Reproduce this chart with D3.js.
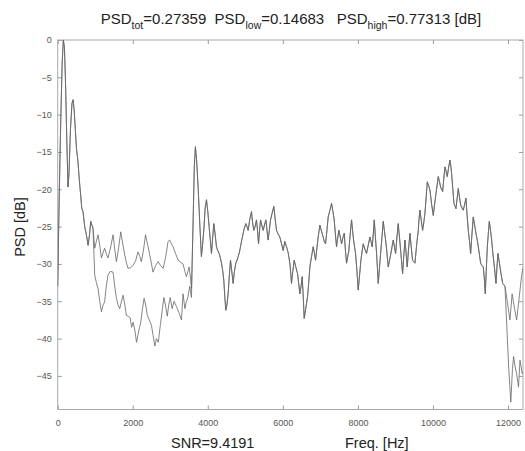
<!DOCTYPE html>
<html>
<head>
<meta charset="utf-8">
<script src="https://cdn.jsdelivr.net/npm/d3@7"></script>
<style>
    body { margin: 0; background: #fff; }
    svg { display: block; font-family: Arial, "Liberation Sans", sans-serif; }
    .tick-label { font-size: 9px; fill: #555; }
    .label { font-size: 14.5px; fill: #222; }
    .title { font-size: 15px; fill: #222; }
    .psd { fill: none; stroke: #666; stroke-width: 1; stroke-opacity: 0.8; stroke-linejoin: round; }
</style>
</head>
<body>
<div id="chart"></div>
<script>

// DATA
// ----------------------------------------------------------------

// 0 - 940 Hz, both spectra on top of each other
var freqHead = [0, 30, 60, 90, 120, 150, 180, 210, 245, 275, 300, 340, 380, 410, 440, 470, 500, 540, 580, 613, 640, 675, 720, 765, 810, 850, 880, 910, 940];
var psdHead = [-33, -24, -16, -9, -3, 0, -1, -6, -14, -19.7, -18, -12, -8.5, -8, -9.5, -12, -14.5, -16.3, -19, -20.8, -22.5, -23, -25, -26.1, -27.5, -26, -24.3, -24.8, -25.2];

// 940 - 3600 Hz, upper spectrum
var freqLowA = [987, 1030, 1075, 1120, 1165, 1210, 1250, 1300, 1340, 1400, 1475, 1520, 1565, 1620, 1680, 1730, 1787, 1830, 1875, 1940, 2010, 2080, 2140, 2190, 2230, 2290, 2340, 2400, 2453, 2500, 2540, 2610, 2675, 2740, 2810, 2880, 2940, 2987, 3030, 3075, 3140, 3210, 3280, 3340, 3390, 3430, 3470, 3500, 3530, 3565];
var psdLowA = [-27.9, -27, -26.1, -27.5, -29.2, -28.5, -27.9, -28.7, -29.2, -28, -26.1, -28, -29.7, -28, -25.7, -27.2, -28.8, -29.8, -30.6, -30.5, -30.2, -29.5, -28.4, -29, -29.7, -28, -26.1, -27.5, -28.8, -30, -31.1, -30.2, -29.7, -30.2, -30.6, -29, -27, -26.8, -27.3, -27.7, -28.6, -29.5, -29.8, -30, -31, -31.7, -31, -30.4, -31.5, -33.3];

// 940 - 3600 Hz, lower spectrum
var freqLowB = [987, 1030, 1075, 1120, 1165, 1210, 1250, 1295, 1340, 1400, 1475, 1520, 1565, 1610, 1653, 1700, 1742, 1790, 1830, 1880, 1930, 1970, 2010, 2060, 2100, 2140, 2180, 2213, 2260, 2302, 2345, 2390, 2440, 2497, 2540, 2590, 2630, 2680, 2740, 2790, 2830, 2870, 2920, 2960, 3000, 3050, 3100, 3165, 3230, 3298, 3340, 3390, 3430, 3470, 3520, 3565];
var psdLowB = [-31.5, -32.5, -33.3, -35, -36.4, -35.5, -35.1, -33, -31.5, -31, -31.1, -33, -34.6, -35.5, -36, -35, -34.2, -35.5, -36.9, -37, -37.2, -38.5, -37.8, -39, -40.5, -39.5, -38.5, -37.8, -36, -34.6, -35.5, -36.9, -37.5, -38.2, -39.5, -41, -40, -40.5, -38, -36, -34.5, -35.5, -37, -35.5, -34.5, -36, -35, -35.7, -36.5, -37.5, -34, -36, -35, -34.5, -33, -34.5];

// 3600 - 11920 Hz, both spectra on top of each other
var freqMid = [3610, 3640, 3670, 3700, 3742, 3790, 3830, 3860, 3893, 3930, 3965, 4000, 4035, 4070, 4098, 4130, 4160, 4195, 4231, 4265, 4302, 4335, 4365, 4400, 4427, 4455, 4480, 4510, 4542, 4575, 4605, 4640, 4675, 4710, 4747, 4780, 4810, 4840, 4871, 4905, 4942, 4975, 5013, 5045, 5075, 5120, 5165, 5195, 5227, 5260, 5298, 5325, 5352, 5380, 5405, 5440, 5475, 5510, 5547, 5578, 5608, 5640, 5672, 5715, 5760, 5795, 5832, 5875, 5920, 5965, 6008, 6053, 6098, 6142, 6190, 6231, 6265, 6302, 6350, 6392, 6420, 6453, 6485, 6516, 6545, 6569, 6610, 6658, 6690, 6720, 6765, 6809, 6840, 6872, 6905, 6942, 6987, 7030, 7075, 7105, 7139, 7175, 7209, 7255, 7298, 7335, 7369, 7400, 7431, 7462, 7493, 7530, 7565, 7600, 7636, 7665, 7698, 7730, 7760, 7795, 7831, 7858, 7885, 7912, 7938, 7975, 8009, 8045, 8080, 8110, 8142, 8185, 8231, 8275, 8320, 8350, 8382, 8410, 8436, 8468, 8498, 8520, 8542, 8575, 8605, 8640, 8675, 8705, 8738, 8775, 8809, 8845, 8880, 8910, 8942, 8975, 9005, 9040, 9075, 9110, 9147, 9191, 9222, 9253, 9285, 9315, 9350, 9387, 9420, 9458, 9490, 9520, 9565, 9609, 9630, 9653, 9690, 9725, 9755, 9787, 9820, 9849, 9885, 9920, 9965, 10009, 10045, 10080, 10110, 10142, 10175, 10205, 10230, 10258, 10290, 10320, 10350, 10382, 10420, 10453, 10475, 10498, 10530, 10560, 10590, 10613, 10645, 10675, 10705, 10738, 10775, 10809, 10845, 10880, 10910, 10942, 10975, 11005, 11040, 11075, 11110, 11147, 11180, 11209, 11240, 11271, 11305, 11342, 11370, 11395, 11420, 11449, 11475, 11502, 11535, 11565, 11595, 11627, 11655, 11680, 11705, 11733, 11760, 11787, 11820, 11858, 11890, 11920];
var psdMid = [-24, -17, -14.3, -16, -19.7, -25, -29, -27.5, -25.5, -22.5, -21.4, -23, -25, -27, -28.6, -26.5, -24.6, -26, -27.7, -28.2, -28.6, -29.2, -29.9, -31, -32.2, -34.5, -36.2, -35.5, -34, -31.5, -29.5, -31, -32.6, -31, -29.9, -29.5, -29, -28.5, -27.7, -26.8, -25.9, -25.2, -24.6, -25, -25.5, -24, -23, -24.5, -25.5, -25, -24.1, -25.5, -27.3, -25.5, -24.1, -24.8, -25.5, -24.8, -24.1, -25.5, -26.8, -25.5, -24.1, -23.2, -22.3, -24, -25.5, -26, -26.4, -27.3, -28.2, -27, -27.7, -28.5, -30, -32.6, -31, -29.5, -30.5, -31.3, -32.5, -34, -33, -31.7, -34.5, -37.3, -36, -34.4, -32.5, -30.4, -29, -27.7, -28.5, -29.5, -28, -26.4, -24.8, -25.6, -26.4, -27, -27.3, -25.5, -23.7, -22.8, -21.9, -23, -24.1, -26, -27.7, -26.5, -25.5, -26.4, -27.3, -26.5, -25.9, -28, -29.9, -29, -28.2, -26, -24.1, -25.5, -26.8, -27.7, -28.6, -31, -33.5, -31.5, -29.5, -28.4, -27.3, -28, -28.6, -27.5, -26.4, -27, -27.7, -26, -24.1, -26.5, -28.6, -30.5, -32.6, -30.5, -28.6, -26.5, -24.3, -25.5, -26.8, -28.5, -30.4, -29.5, -28.6, -27.7, -26.8, -27.7, -28.6, -26.5, -24.6, -26.5, -28.6, -31.3, -29, -26.8, -28.5, -30.4, -28, -25.9, -27.7, -29.5, -29.7, -29.9, -27.5, -25.5, -24, -22.8, -24.2, -25.5, -24.5, -23.2, -21, -19, -19.5, -20.1, -22, -23.5, -22, -20.6, -19.5, -18.3, -19, -19.7, -20, -20.3, -18.5, -17, -17.6, -18.3, -17, -16.1, -16.8, -17.9, -20, -21.9, -22.3, -22.6, -21.2, -19.9, -21, -22.1, -22.5, -22.8, -22, -21.2, -23.5, -25.5, -27, -28.6, -26, -23.7, -24.8, -25.9, -26.8, -27.7, -28.8, -29.9, -30.2, -30.4, -32, -34, -31, -27.7, -26, -24.3, -25.5, -26.8, -28.5, -29.9, -31.3, -32.6, -30.5, -28.6, -29.5, -30.4, -31.5, -32.6, -32.8, -33];

// above 11920 Hz the spectra split again
var freqTailA = [11965, 12020, 12075, 12120, 12150, 12190, 12230, 12280, 12320, 12380, 12400];
var psdTailA = [-38, -44, -48.5, -44, -42.4, -43.8, -44.7, -46.5, -42.9, -44.7, -44.5];
var freqTailB = [11965, 12053, 12110, 12165, 12230, 12290, 12360, 12400];
var psdTailB = [-34.5, -37.5, -34, -35.7, -37.5, -34.9, -31.7, -30.5];

var xTicks = [0, 2000, 4000, 6000, 8000, 10000, 12000];
var yTicks = [0, -5, -10, -15, -20, -25, -30, -35, -40, -45];

var psdTot = '0.27359', psdLow = '0.14683', psdHigh = '0.77313', snr = '9.4191';


// LAYOUT
// ----------------------------------------------------------------

var _width = 525,
    _height = 451,
    _left = 57.7,
    _right = 523,
    _top = 40,
    _bottom = 409.5,
    _tickLen = 4;

var x = d3.scaleLinear().domain([0, 12400]).range([_left, _right]);
var y = d3.scaleLinear().domain([-49.5, 0]).range([_bottom, _top]);

var svg = d3.select('#chart').append('svg')
    .attr('width', _width)
    .attr('height', _height);

svg.append('defs').append('clipPath').attr('id', 'plot-clip')
    .append('rect')
    .attr('x', _left).attr('y', _top - 1)
    .attr('width', _right - _left).attr('height', _bottom - _top + 2);


// AXES (matlab style box, ticks pointing in)
// ----------------------------------------------------------------

var styleAxis = function (g) {
    g.select('.domain').remove();
    g.selectAll('.tick line').attr('stroke', '#999');
    g.selectAll('.tick text').attr('class', 'tick-label').attr('fill', '#555');
};

svg.append('g')
    .attr('transform', 'translate(0,' + _bottom + ')')
    .call(d3.axisBottom(x).tickValues(xTicks).tickSize(-_tickLen).tickPadding(10).tickFormat(d3.format('d')))
    .call(styleAxis)
    .selectAll('.tick text').attr('font-size', 9);

svg.append('g')
    .attr('transform', 'translate(0,' + _top + ')')
    .call(d3.axisTop(x).tickValues(xTicks).tickSize(-_tickLen).tickFormat(''))
    .call(styleAxis);

svg.append('g')
    .attr('transform', 'translate(' + _left + ',0)')
    .call(d3.axisLeft(y).tickValues(yTicks).tickSize(-_tickLen).tickPadding(6).tickFormat(d3.format('d')))
    .call(styleAxis)
    .selectAll('.tick text').attr('font-size', 9);

svg.append('g')
    .attr('transform', 'translate(' + _right + ',0)')
    .call(d3.axisRight(y).tickValues(yTicks).tickSize(-_tickLen).tickFormat(''))
    .call(styleAxis);

svg.append('rect')
    .attr('x', _left).attr('y', _top)
    .attr('width', _right - _left).attr('height', _bottom - _top)
    .attr('fill', 'none')
    .attr('stroke', '#aaa');


// CURVES
// ----------------------------------------------------------------

var toPoints = function (freqs, vals) {
    return freqs.map(function (f, i) { return [f, vals[i]]; });
};

var curveA = [].concat(toPoints(freqHead, psdHead), toPoints(freqLowA, psdLowA), toPoints(freqMid, psdMid), toPoints(freqTailA, psdTailA));
var curveB = [].concat(toPoints(freqHead, psdHead), toPoints(freqLowB, psdLowB), toPoints(freqMid, psdMid), toPoints(freqTailB, psdTailB));

var line = d3.line()
    .x(function (d) { return x(d[0]); })
    .y(function (d) { return y(d[1]); });

var gCurves = svg.append('g').attr('clip-path', 'url(#plot-clip)');

gCurves.selectAll('path')
    .data([curveA, curveB])
    .enter()
    .append('path')
    .attr('class', 'psd')
    .attr('d', line);


// TEXTS
// ----------------------------------------------------------------

var title = svg.append('text')
    .attr('class', 'title')
    .attr('x', 291)
    .attr('y', 24)
    .attr('text-anchor', 'middle');

var addPart = function (main, sub, value) {
    title.append('tspan').text(main);
    title.append('tspan').attr('dy', 5).attr('font-size', 10.5).text(sub);
    title.append('tspan').attr('dy', -5).text(value);
};
addPart('PSD', 'tot', '=' + psdTot + '\u00a0\u00a0');
addPart('PSD', 'low', '=' + psdLow + '\u00a0\u00a0\u00a0');
addPart('PSD', 'high', '=' + psdHigh + ' [dB]');

svg.append('text')
    .attr('class', 'label')
    .attr('transform', 'translate(25,227) rotate(-90)')
    .attr('text-anchor', 'middle')
    .text('PSD [dB]');

svg.append('text')
    .attr('class', 'label')
    .attr('x', 171)
    .attr('y', 448)
    .text('SNR=' + snr);

svg.append('text')
    .attr('class', 'label')
    .attr('x', 345)
    .attr('y', 448)
    .text('Freq. [Hz]');

</script>
</body>
</html>
